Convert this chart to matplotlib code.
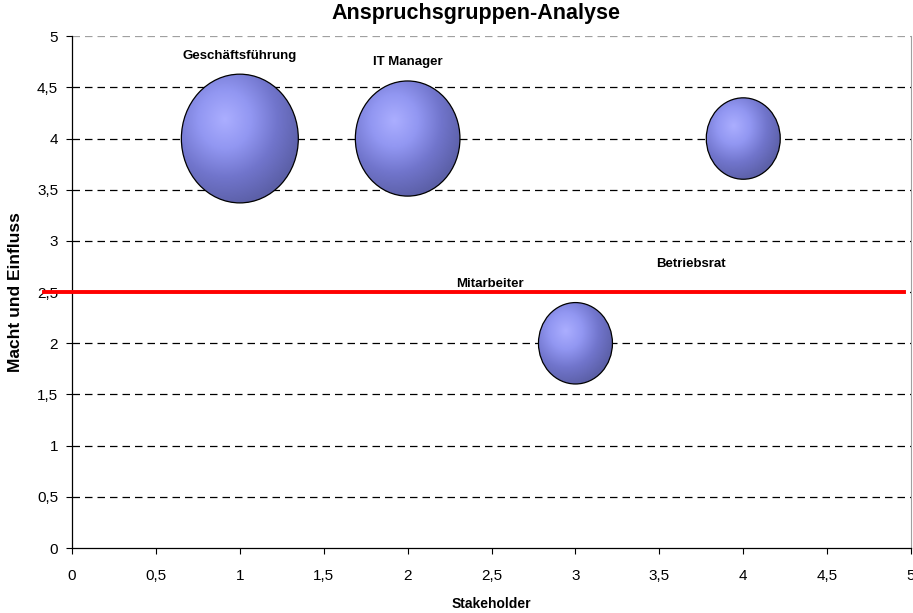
import numpy as np
import matplotlib
matplotlib.use("Agg")
import matplotlib.pyplot as plt
from matplotlib.patches import Ellipse
from matplotlib.colors import LinearSegmentedColormap

plt.rcParams["font.family"] = ["Liberation Sans", "DejaVu Sans"]

# Data
stakeholder = [1, 2, 4, 3]
macht = [4, 4, 4, 2]
bubble_size = [5, 4, 2, 2]

label_names = ["Geschäftsführung", "IT Manager", "Betriebsrat", "Mitarbeiter"]
label_x = [1.0, 2.0, 3.69, 2.49]
label_y = [4.81, 4.75, 2.77, 2.58]

threshold = 2.5
x_ticks = [0, 0.5, 1, 1.5, 2, 2.5, 3, 3.5, 4, 4.5, 5]
y_ticks = [0, 0.5, 1, 1.5, 2, 2.5, 3, 3.5, 4, 4.5, 5]


def de(v):
    return ("%g" % v).replace(".", ",")


fig = plt.figure(figsize=(9.13, 6.13), dpi=100)
ax = fig.add_axes([0.0789, 0.106, 0.919, 0.835])
ax.set_xlim(0, 5)
ax.set_ylim(0, 5)

# grid lines (dashed)
for yv in y_ticks[1:]:
    col = "#a0a0a0" if yv == 5 else "black"
    ax.axhline(yv, color=col, lw=0.9, ls=(0, (6, 4)), zorder=1)

# bubbles with radial shading
cmap = LinearSegmentedColormap.from_list("bub", ["#abaeff", "#9297f2", "#7175cc", "#5c60a8"])
# bubble width/height per sqrt(size) in data units (axes pixels not square)
w_unit = 0.3117
h_unit = 0.5624
for x, y, s in zip(stakeholder, macht, bubble_size):
    w = w_unit * np.sqrt(s)
    h = h_unit * np.sqrt(s)
    gx = np.linspace(-1, 1, 200)
    gy = np.linspace(-1, 1, 200)
    XX, YY = np.meshgrid(gx, gy)
    R = np.sqrt((XX + 0.25) ** 2 + (YY - 0.3) ** 2) / 1.35
    img = ax.imshow(R, extent=[x - w / 2, x + w / 2, y - h / 2, y + h / 2],
                    origin="lower", cmap=cmap, vmin=0, vmax=1, aspect="auto",
                    zorder=3, interpolation="bilinear")
    e = Ellipse((x, y), w, h, facecolor="none", edgecolor="black", lw=0.9, zorder=4)
    ax.add_patch(e)
    img.set_clip_path(e)

ax.set_xlim(0, 5)
ax.set_ylim(0, 5)

# threshold line
ax.plot([-0.17, 4.96], [threshold, threshold], color="red", lw=2.8, zorder=5, clip_on=False)

for name, lx, ly in zip(label_names, label_x, label_y):
    ax.text(lx, ly, name, ha="center", va="center", fontsize=9.5, fontweight="bold", zorder=6)

ax.set_xticks(x_ticks)
ax.set_yticks(y_ticks)
ax.set_xticklabels([de(v) for v in x_ticks], fontsize=11)
ax.set_yticklabels([de(v) for v in y_ticks], fontsize=11)
ax.tick_params(axis="x", direction="out", length=4, width=0.8, pad=11)
ax.tick_params(axis="y", direction="out", length=4, width=0.8, pad=6)

ax.spines["top"].set_visible(False)
ax.spines["right"].set_color("#a0a0a0")
ax.spines["left"].set_linewidth(0.9)
ax.spines["bottom"].set_linewidth(0.9)

ax.set_xlabel("Stakeholder", fontsize=10, fontweight="bold", labelpad=10)
ax.set_ylabel("Macht und Einfluss", fontsize=12.5, fontweight="bold", labelpad=10)
fig.text(476 / 913, 1 - 14 / 613, "Anspruchsgruppen-Analyse", ha="center", va="center",
         fontsize=15.5, fontweight="bold")

fig.savefig("out.png", dpi=100)
